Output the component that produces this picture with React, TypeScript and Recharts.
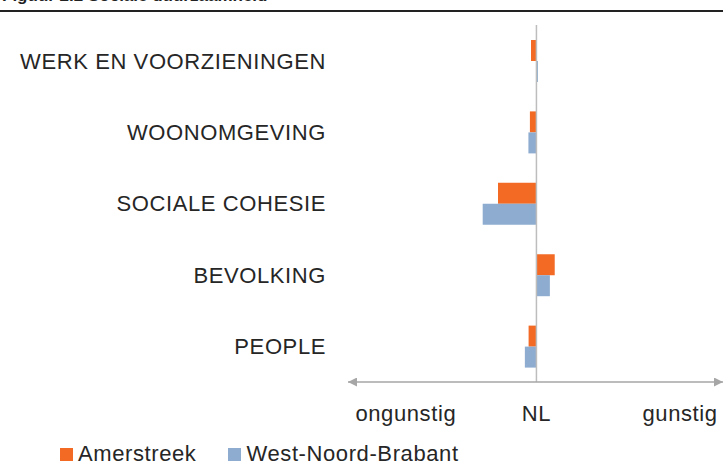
import React from 'react';
import { BarChart, Bar, XAxis, YAxis, ReferenceLine } from 'recharts';

const categories = ['WERK EN VOORZIENINGEN', 'WOONOMGEVING', 'SOCIALE COHESIE', 'BEVOLKING', 'PEOPLE'];
const amerstreek = [-0.29, -0.35, -2.06, 0.98, -0.42];
const westNoordBrabant = [0.08, -0.43, -2.88, 0.72, -0.62];
const axisTicks = [-7, 0, 7.7];
const axisLabels = ['ongunstig', 'NL', 'gunstig'];

const ORANGE = '#F26A24';
const BLUE = '#8DACCF';
const TEXT = '#262626';
const FONT = '"Liberation Sans", Arial, sans-serif';

const data = categories.map((name, i) => ({
  name,
  amerstreek: amerstreek[i],
  wnb: westNoordBrabant[i],
}));

const App: React.FC = () => {
  return (
    <div style={{ position: 'absolute', left: 0, top: 0, width: 723, height: 473, overflow: 'hidden', background: '#fff', fontFamily: FONT }}>
      {/* title is cut off at the top in the original */}
      <div style={{ position: 'absolute', left: 2, top: -14, fontSize: 17, fontWeight: 'bold', color: '#222', whiteSpace: 'nowrap' }}>
        Figuur 2.2 Sociale duurzaamheid
      </div>
      <div style={{ position: 'absolute', left: 0, top: 10, width: 723, height: 2, background: '#222' }} />

      <svg width={0} height={0} style={{ position: 'absolute' }}>
        <defs>
          <marker id="arrowHead" viewBox="0 0 10 10" refX={10} refY={5} markerWidth={9} markerHeight={9} markerUnits="userSpaceOnUse" orient="auto-start-reverse">
            <path d="M0,0 L10,5 L0,10 z" fill="#A6A6A6" />
          </marker>
        </defs>
      </svg>

      <div style={{ position: 'absolute', left: 0, top: 0 }}>
        <BarChart
          width={723}
          height={440}
          data={data}
          layout="vertical"
          margin={{ top: 25, right: 0, bottom: 0, left: 0 }}
          barSize={21}
          barGap={0}
        >
          <XAxis
            type="number"
            domain={[-10.1, 10]}
            ticks={axisTicks}
            tickFormatter={(v: number) => axisLabels[axisTicks.indexOf(v)] ?? ''}
            tickSize={0}
            tickMargin={23}
            height={58}
            allowDataOverflow
            axisLine={{ stroke: '#A6A6A6', strokeWidth: 1.5, markerStart: 'url(#arrowHead)', markerEnd: 'url(#arrowHead)' }}
            tick={{ fill: TEXT, fontSize: 22, fontFamily: FONT, letterSpacing: 0.6 }}
          />
          <YAxis
            type="category"
            dataKey="name"
            width={348}
            axisLine={false}
            tickLine={false}
            tickSize={0}
            tickMargin={22}
            tick={{ fill: TEXT, fontSize: 22, fontFamily: FONT, letterSpacing: 0.6 }}
          />
          <ReferenceLine x={0} stroke="#BDBDBD" strokeWidth={1.5} />
          <Bar dataKey="amerstreek" fill={ORANGE} isAnimationActive={false} />
          <Bar dataKey="wnb" fill={BLUE} isAnimationActive={false} />
        </BarChart>
      </div>

      <div style={{ position: 'absolute', left: 60, top: 441, display: 'flex', alignItems: 'center', fontSize: 22, letterSpacing: 0.6, color: TEXT }}>
        <span style={{ width: 13, height: 13, background: ORANGE, display: 'inline-block', marginRight: 5 }} />
        <span style={{ marginRight: 32 }}>Amerstreek</span>
        <span style={{ width: 13, height: 13, background: BLUE, display: 'inline-block', marginRight: 5 }} />
        <span>West-Noord-Brabant</span>
      </div>
    </div>
  );
};

export default App;
